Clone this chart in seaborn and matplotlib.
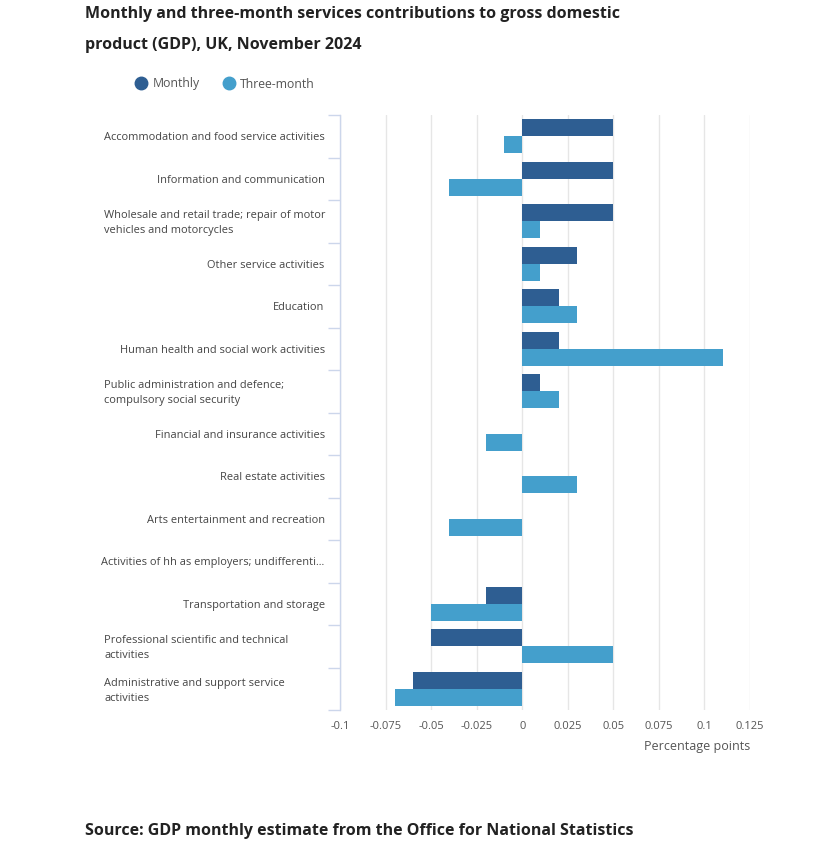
import matplotlib
matplotlib.use('Agg')
import matplotlib.pyplot as plt
from matplotlib.lines import Line2D
import numpy as np
import pandas as pd
import seaborn as sns

categories = [
    "Accommodation and food service activities",
    "Information and communication",
    "Wholesale and retail trade; repair of motor\nvehicles and motorcycles",
    "Other service activities",
    "Education",
    "Human health and social work activities",
    "Public administration and defence;\ncompulsory social security",
    "Financial and insurance activities",
    "Real estate activities",
    "Arts entertainment and recreation",
    "Activities of hh as employers; undifferenti...",
    "Transportation and storage",
    "Professional scientific and technical\nactivities",
    "Administrative and support service\nactivities",
]
monthly = [0.05, 0.05, 0.05, 0.03, 0.02, 0.02, 0.01, 0, 0, 0, 0, -0.02, -0.05, -0.06]
three_month = [-0.01, -0.04, 0.01, 0.01, 0.03, 0.11, 0.02, -0.02, 0.03, -0.04, 0, -0.05, 0.05, -0.07]
series = ["Monthly", "Three-month"]
colors = ["#2e5e92", "#449fcc"]
x_ticks = [-0.1, -0.075, -0.05, -0.025, 0, 0.025, 0.05, 0.075, 0.1, 0.125]
x_tick_labels = ["-0.1", "-0.075", "-0.05", "-0.025", "0", "0.025", "0.05", "0.075", "0.1", "0.125"]

df = pd.DataFrame({
    "category": categories * 2,
    "series": [series[0]] * len(categories) + [series[1]] * len(categories),
    "value": monthly + three_month,
})

sns.set_style("white")
plt.rcParams['font.family'] = ['Open Sans', 'DejaVu Sans']

fig = plt.figure(figsize=(8.15, 8.5), dpi=100)
ax = fig.add_axes([340 / 815, 1 - 710 / 850, (750 - 340) / 815, (710 - 115) / 850])

sns.barplot(data=df, y="category", x="value", hue="series", order=categories,
            hue_order=series, palette=colors, orient="h", width=0.8,
            saturation=1, errorbar=None, legend=False, linewidth=0, ax=ax)

ax.set_xlim(-0.1, 0.125)
ax.set_ylim(len(categories) - 0.5, -0.5)
ax.set_xticks(x_ticks)
ax.set_xticklabels(x_tick_labels)
ax.xaxis.grid(True, color="#e6e6e6", linewidth=1)
ax.set_axisbelow(True)

for s in ["top", "right", "bottom"]:
    ax.spines[s].set_visible(False)
ax.spines["left"].set_color("#ccd6eb")
ax.spines["left"].set_linewidth(1)

# single-line labels sit right-aligned next to the axis,
# wrapped ones are left-aligned at a fixed x like the original
ax.set_yticks(np.arange(len(categories)))
ax.set_yticklabels([c if "\n" not in c else "" for c in categories],
                   fontsize=7.9, color="#444444")
wrap_x = (104 - 340) / 410
for i, c in enumerate(categories):
    if "\n" in c:
        ax.text(wrap_x, i + 0.05, c, transform=ax.get_yaxis_transform(), ha="left", va="center",
                fontsize=7.9, color="#444444", linespacing=1.5)

ax.set_yticks(np.arange(len(categories) + 1) - 0.5, minor=True)
ax.tick_params(axis="y", which="major", left=False, length=0, pad=11)
ax.tick_params(axis="y", which="minor", left=True, direction="out", length=9,
               color="#ccd6eb", width=1)
ax.tick_params(axis="x", length=0, labelsize=8, labelcolor="#555555", pad=8)

ax.set_ylabel("")
ax.set_xlabel("Percentage points", fontsize=9, color="#555555", loc="right", labelpad=6)

fig.text(85 / 815, 1 - 14 / 850, "Monthly and three-month services contributions to gross domestic",
         fontsize=11.5, fontweight="bold", color="#222222", va="center", ha="left")
fig.text(85 / 815, 1 - 45 / 850, "product (GDP), UK, November 2024",
         fontsize=11.5, fontweight="bold", color="#222222", va="center", ha="left")

handles = [Line2D([0], [0], marker="o", linestyle="", markersize=9,
                  markerfacecolor=c, markeredgecolor=c) for c in colors]
fig.legend(handles, series, loc="center left", bbox_to_anchor=(123 / 815, 1 - 84 / 850),
           ncol=2, frameon=False, fontsize=8.8, labelcolor="#555555",
           handletextpad=0.3, columnspacing=1.8, handlelength=1.2)

fig.text(85 / 815, 1 - 831 / 850, "Source: GDP monthly estimate from the Office for National Statistics",
         fontsize=11.5, fontweight="bold", color="#222222", va="center", ha="left")

fig.savefig("out.png", dpi=100, facecolor="white")
